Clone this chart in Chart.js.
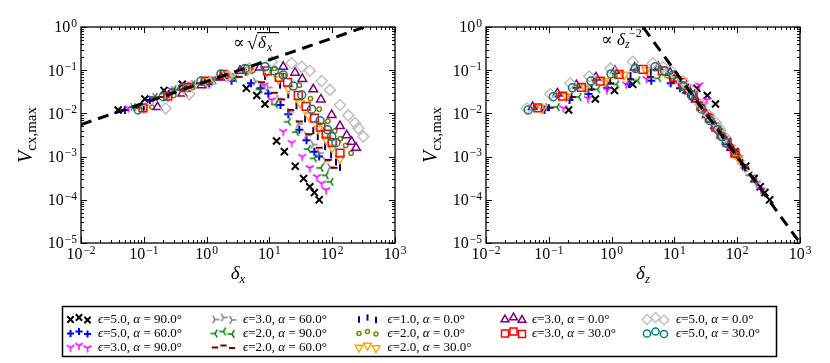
<!DOCTYPE html>
<html>
<head>
<meta charset="utf-8">
<title>Vcx,max vs delta</title>
<script src="https://cdn.jsdelivr.net/npm/chart.js@4.4.1/dist/chart.umd.min.js"></script>
<style>
  html, body { margin: 0; padding: 0; background: #fff; }
  #page { position: relative; width: 830px; height: 363px; overflow: hidden; }
  #page canvas { position: absolute; top: 0; }
  .lt { position: absolute; font-family: 'Liberation Serif', 'DejaVu Serif', serif; font-size: 13px; line-height: 16px; white-space: nowrap; color: #000; }
</style>
</head>
<body>
<div id="page">
  <canvas id="legendCanvas" width="830" height="363" style="left:0"></canvas>
  <canvas id="leftChart" width="415" height="300" style="left:0"></canvas>
  <canvas id="rightChart" width="425" height="300" style="left:405px"></canvas>
</div>
<script>
// ---- data: delta_x, delta_z and V_cx,max for each run ----
// eps=5.0, alpha=90
const dxE5A90 = [0.039, 0.104, 0.21, 0.41, 4.3, 6.3, 8.5, 13, 17.3, 25.8, 35, 44, 52, 62];
const dzE5A90 = [0.207, 0.551, 1.11, 2.17, 22.8, 33.4, 45.1, 68.9, 91.7, 137, 186, 233, 276, 329];
const vE5A90 = [0.012, 0.0215, 0.034, 0.047, 0.038, 0.026, 0.0165, 0.0023, 0.0013, 0.0006, 0.00031, 0.0002, 0.000147, 0.0001];
// eps=5.0, alpha=60
const dxE5A60 = [0.05, 0.125, 0.25, 0.5, 1.1, 2.5, 5.1, 7.2, 9.6, 15, 20, 30, 39, 52, 62];
const dzE5A60 = [0.0855, 0.214, 0.428, 0.855, 1.88, 4.28, 8.72, 12.3, 16.4, 25.7, 34.2, 51.3, 66.7, 88.9, 106];
const vE5A60 = [0.012, 0.0205, 0.028, 0.039, 0.048, 0.057, 0.05, 0.038, 0.029, 0.0156, 0.0095, 0.0042, 0.0024, 0.0013, 0.001];
// eps=3.0, alpha=90
const dxE3A90 = [0.057, 0.14, 0.28, 0.57, 1.2, 8.3, 10.9, 16.6, 22.6, 33.4, 44, 57, 68, 80];
const dzE3A90 = [0.171, 0.42, 0.84, 1.71, 3.6, 24.9, 32.7, 49.8, 67.8, 100, 132, 171, 204, 240];
const vE3A90 = [0.0132, 0.022, 0.035, 0.047, 0.063, 0.045, 0.0204, 0.0038, 0.0021, 0.001, 0.00055, 0.00034, 0.00024, 0.00017];
// eps=3.0, alpha=60
const dxE3A60 = [0.067, 0.15, 0.3, 0.62, 1.3, 2.7, 6, 9.5, 14, 21, 29, 39, 50, 63, 78, 92];
const dzE3A60 = [0.0965, 0.216, 0.432, 0.893, 1.87, 3.89, 8.64, 13.7, 20.2, 30.2, 41.8, 56.2, 72, 90.7, 112, 132];
const vE3A60 = [0.014, 0.024, 0.035, 0.048, 0.06, 0.068, 0.055, 0.04, 0.022, 0.011, 0.0057, 0.0031, 0.0019, 0.0012, 0.00079, 0.00057];
// eps=2.0, alpha=90
const dxE2A90 = [0.068, 0.15, 0.3, 0.6, 1.3, 2.8, 7.1, 12.5, 20, 27, 41.6, 52, 66, 80, 95];
const dzE2A90 = [0.136, 0.3, 0.6, 1.2, 2.6, 5.6, 14.2, 25, 40, 54, 83.2, 104, 132, 160, 190];
const vE2A90 = [0.014, 0.024, 0.036, 0.047, 0.058, 0.065, 0.036, 0.016, 0.0064, 0.0037, 0.0015, 0.00091, 0.00055, 0.00037, 0.00026];
// eps=2.0, alpha=60
const dxE2A60 = [0.083, 0.19, 0.38, 0.77, 1.6, 3.3, 7.5, 12, 15.7, 21.8, 30, 42.8, 62, 87, 107];
const dzE2A60 = [0.105, 0.239, 0.479, 0.97, 2.02, 4.16, 9.45, 15.1, 19.8, 27.5, 37.8, 53.9, 78.1, 110, 135];
const vE2A60 = [0.0135, 0.024, 0.036, 0.05, 0.062, 0.07, 0.0525, 0.03, 0.021, 0.012, 0.0065, 0.0033, 0.0016, 0.00084, 0.00055];
// eps=1.0, alpha=0
const dxE1A0 = [0.1, 0.23, 0.48, 0.95, 2, 4.2, 8.5, 14.8, 20, 27, 37, 50, 59, 77, 96, 115, 133];
const dzE1A0 = [0.1, 0.23, 0.48, 0.95, 2, 4.2, 8.5, 14.8, 20, 27, 37, 50, 59, 77, 96, 115, 133];
const vE1A0 = [0.0135, 0.025, 0.04, 0.056, 0.075, 0.09, 0.072, 0.045, 0.027, 0.015, 0.0075, 0.004, 0.0029, 0.0017, 0.0011, 0.00075, 0.00056];
// eps=2.0, alpha=0
const dxE2A0 = [0.135, 0.3, 0.6, 1.2, 2.5, 5.5, 12, 17, 30, 45, 62, 85, 110, 135, 164, 200];
const dzE2A0 = [0.061, 0.135, 0.27, 0.54, 1.13, 2.48, 5.4, 7.65, 13.5, 20.3, 27.9, 38.3, 49.5, 60.8, 73.8, 90];
const vE2A0 = [0.014, 0.026, 0.04, 0.057, 0.075, 0.1, 0.11, 0.075, 0.045, 0.022, 0.0125, 0.0066, 0.0039, 0.0026, 0.0018, 0.0012];
// eps=2.0, alpha=30
const dxE2A30 = [0.1, 0.24, 0.48, 1.0, 2.0, 4.5, 9, 14, 20, 30.7, 42, 60, 80, 100, 133];
const dzE2A30 = [0.079, 0.19, 0.379, 0.79, 1.58, 3.56, 7.11, 11.1, 15.8, 24.3, 33.2, 47.4, 63.2, 79, 105];
const vE2A30 = [0.0135, 0.025, 0.04, 0.056, 0.078, 0.1, 0.09, 0.062, 0.038, 0.0175, 0.009, 0.0044, 0.0025, 0.0016, 0.0009];
// eps=3.0, alpha=0
const dxE3A0 = [0.166, 0.41, 0.83, 1.69, 3.4, 7, 16.6, 25.6, 33.4, 50, 66, 98, 133, 170, 204, 240];
const dzE3A0 = [0.0553, 0.137, 0.276, 0.563, 1.13, 2.33, 5.53, 8.53, 11.1, 16.7, 22, 32.7, 44.3, 56.7, 68, 80];
const vE3A0 = [0.014, 0.029, 0.045, 0.068, 0.097, 0.115, 0.12, 0.0875, 0.0626, 0.036, 0.021, 0.0092, 0.0051, 0.0031, 0.0022, 0.0016];
// eps=3.0, alpha=30
const dxE3A30 = [0.097, 0.24, 0.48, 0.95, 1.9, 4.6, 9.3, 14.4, 19.5, 28.8, 38.3, 52, 66, 80, 100, 133];
const dzE3A30 = [0.0669, 0.166, 0.331, 0.656, 1.31, 3.17, 6.42, 9.94, 13.5, 19.9, 26.4, 35.9, 45.5, 55.2, 69, 91.8];
const vE3A30 = [0.0134, 0.025, 0.04, 0.056, 0.08, 0.105, 0.097, 0.0685, 0.0525, 0.026, 0.0145, 0.0078, 0.0048, 0.0033, 0.0021, 0.0012];
// eps=5.0, alpha=0
const dxE5A0 = [0.223, 0.53, 1.1, 2.2, 4.8, 10.9, 22.6, 32.7, 44, 68, 92, 133, 180, 231, 261, 313];
const dzE5A0 = [0.0446, 0.106, 0.22, 0.44, 0.96, 2.18, 4.52, 6.54, 8.8, 13.6, 18.4, 26.6, 36, 46.2, 52.2, 62.6];
const vE5A0 = [0.0131, 0.028, 0.05, 0.072, 0.11, 0.157, 0.145, 0.12, 0.097, 0.056, 0.035, 0.0156, 0.009, 0.006, 0.0045, 0.0029];
// eps=5.0, alpha=30
const dxE5A30 = [0.081, 0.204, 0.41, 0.81, 1.69, 4.1, 8.5, 12, 16.6, 24, 32.7, 47, 64, 84, 98, 115];
const dzE5A30 = [0.047, 0.118, 0.238, 0.47, 0.98, 2.38, 4.93, 6.96, 9.63, 13.9, 19, 27.3, 37.1, 48.7, 56.8, 66.7];
const vE5A30 = [0.012, 0.0244, 0.039, 0.056, 0.082, 0.11, 0.12, 0.096, 0.0775, 0.043, 0.0267, 0.0125, 0.0068, 0.0042, 0.0029, 0.0021];

// guide lines: V ~ sqrt(delta_x) and V ~ delta_z^-2
const sqrtGuideX = [0.01, 1000];
const sqrtGuideY = [0.0055, 1.74];
const invGuideX = [1, 1000];
const invGuideY = [10, 0.00001];

const xTickExps = [-2, -1, 0, 1, 2, 3];
const yTickExps = [-5, -4, -3, -2, -1, 0];

const labels = [
  'ϵ=5.0, α = 90.0°', 'ϵ=5.0, α = 60.0°', 'ϵ=3.0, α = 90.0°',
  'ϵ=3.0, α = 60.0°', 'ϵ=2.0, α = 90.0°', 'ϵ=2.0, α = 60.0°',
  'ϵ=1.0, α = 0.0°', 'ϵ=2.0, α = 0.0°', 'ϵ=2.0, α = 30.0°',
  'ϵ=3.0, α = 0.0°', 'ϵ=3.0, α = 30.0°',
  'ϵ=5.0, α = 0.0°', 'ϵ=5.0, α = 30.0°'
];
const deltaX = [dxE5A90, dxE5A60, dxE3A90, dxE3A60, dxE2A90, dxE2A60, dxE1A0, dxE2A0, dxE2A30, dxE3A0, dxE3A30, dxE5A0, dxE5A30];
const deltaZ = [dzE5A90, dzE5A60, dzE3A90, dzE3A60, dzE2A90, dzE2A60, dzE1A0, dzE2A0, dzE2A30, dzE3A0, dzE3A30, dzE5A0, dzE5A30];
const vMax = [vE5A90, vE5A60, vE3A90, vE3A60, vE2A90, vE2A60, vE1A0, vE2A0, vE2A30, vE3A0, vE3A30, vE5A0, vE5A30];

const SERIF = "'Liberation Serif', 'DejaVu Serif', serif";

// matplotlib-like "tri" markers as small sprites
function tri(color, angles) {
  const c = document.createElement('canvas');
  c.width = 12; c.height = 12;
  const g = c.getContext('2d');
  g.strokeStyle = color;
  g.lineWidth = 1.5;
  g.beginPath();
  angles.forEach(a => {
    const r = a * Math.PI / 180;
    g.moveTo(6, 6);
    g.lineTo(6 + 4.5 * Math.cos(r), 6 - 4.5 * Math.sin(r));
  });
  g.stroke();
  return c;
}

const looks = [
  { color: '#000000', pointStyle: 'crossRot', radius: 5, width: 2 },
  { color: '#0000ff', pointStyle: 'cross', radius: 4, width: 2 },
  { color: '#ff00ff', pointStyle: tri('#ff00ff', [270, 30, 150]) },
  { color: '#808080', pointStyle: tri('#808080', [0, 120, 240]) },
  { color: '#008000', pointStyle: tri('#008000', [180, 60, 300]) },
  { color: '#800000', pointStyle: 'line', radius: 3.5, width: 2 },
  { color: '#000080', pointStyle: 'line', rotation: 90, radius: 3.5, width: 2 },
  { color: '#808000', pointStyle: 'circle', radius: 2.2, width: 1.5 },
  { color: '#ffa500', pointStyle: 'triangle', rotation: 180, radius: 5, width: 1.5 },
  { color: '#800080', pointStyle: 'triangle', radius: 5, width: 1.5 },
  { color: '#ff0000', pointStyle: 'rect', radius: 5.5, width: 1.5 },
  { color: '#c0c0c0', pointStyle: 'rectRot', radius: 5.5, width: 1.5 },
  { color: '#008080', pointStyle: 'circle', radius: 4, width: 1.5 }
];

function scatterSets(xsList) {
  return labels.map((label, i) => {
    const lk = looks[i];
    return {
      label,
      data: xsList[i].map((x, j) => ({ x, y: vMax[i][j] })),
      pointStyle: lk.pointStyle,
      pointRadius: lk.radius || 4,
      pointRotation: lk.rotation || 0,
      pointBorderColor: lk.color,
      pointBackgroundColor: 'rgba(0,0,0,0)',
      pointBorderWidth: lk.width || 1.5,
      showLine: false,
      order: labels.length - i + 1
    };
  });
}

// "10" with a raised exponent
function powLabel(ctx, e, x, y, align) {
  const sup = e < 0 ? '\u2212' + (-e) : String(e);
  ctx.font = `16px ${SERIF}`;
  const wb = ctx.measureText('10').width;
  ctx.font = `11.5px ${SERIF}`;
  const ws = ctx.measureText(sup).width;
  const total = wb + ws + 1;
  const x0 = align === 'center' ? x - total / 2 : x - total;
  ctx.font = `16px ${SERIF}`;
  ctx.fillText('10', x0, y);
  ctx.font = `11.5px ${SERIF}`;
  ctx.fillText(sup, x0 + wb + 1, y - 5.5);
}

const decoPlugin = {
  id: 'deco',
  afterDatasetsDraw(chart, args, o) {
    const { ctx, chartArea: a } = chart;
    const xs = chart.scales.x, ys = chart.scales.y;
    ctx.save();
    ctx.fillStyle = '#000';
    ctx.strokeStyle = '#000';

    // inward major/minor ticks on all four sides
    ctx.lineWidth = 1;
    ctx.beginPath();
    xTickExps.forEach((e, i) => {
      for (let m = 1; m <= 9; m++) {
        if (m > 1 && i === xTickExps.length - 1) break;
        const px = Math.round(xs.getPixelForValue(m * Math.pow(10, e))) + 0.5;
        const len = m === 1 ? 6 : 3;
        ctx.moveTo(px, a.bottom); ctx.lineTo(px, a.bottom - len);
        ctx.moveTo(px, a.top); ctx.lineTo(px, a.top + len);
      }
    });
    yTickExps.forEach((e, i) => {
      for (let m = 1; m <= 9; m++) {
        if (m > 1 && i === yTickExps.length - 1) break;
        const py = Math.round(ys.getPixelForValue(m * Math.pow(10, e))) + 0.5;
        const len = m === 1 ? 6 : 3;
        ctx.moveTo(a.left, py); ctx.lineTo(a.left + len, py);
        ctx.moveTo(a.right, py); ctx.lineTo(a.right - len, py);
      }
    });
    ctx.stroke();

    ctx.lineWidth = 1.3;
    ctx.strokeRect(a.left, a.top, a.right - a.left, a.bottom - a.top);

    // tick labels
    ctx.textAlign = 'left';
    ctx.textBaseline = 'alphabetic';
    xTickExps.forEach(e => powLabel(ctx, e, xs.getPixelForValue(Math.pow(10, e)), a.bottom + 16, 'center'));
    yTickExps.forEach(e => powLabel(ctx, e, a.left - 4, ys.getPixelForValue(Math.pow(10, e)) + 5.3, 'right'));

    // x title: delta with subscript
    ctx.font = `italic 19px ${SERIF}`;
    const wd = ctx.measureText('δ').width;
    ctx.font = `italic 13px ${SERIF}`;
    const wsub = ctx.measureText(o.sub).width;
    const cx = (a.left + a.right) / 2 - (wd + wsub) / 2;
    ctx.font = `italic 19px ${SERIF}`;
    ctx.fillText('δ', cx, a.bottom + 36);
    ctx.font = `italic 13px ${SERIF}`;
    ctx.fillText(o.sub, cx + wd, a.bottom + 40);

    // y title: V_cx,max rotated
    ctx.save();
    ctx.translate(a.left - 49, (a.top + a.bottom) / 2);
    ctx.rotate(-Math.PI / 2);
    ctx.font = `italic 20px ${SERIF}`;
    const wV = ctx.measureText('V').width;
    ctx.font = `15px ${SERIF}`;
    const wS = ctx.measureText('cx,max').width;
    const y0 = -(wV + wS) / 2;
    ctx.font = `italic 20px ${SERIF}`;
    ctx.fillText('V', y0, 0);
    ctx.font = `15px ${SERIF}`;
    ctx.fillText('cx,max', y0 + wV, 4);
    ctx.restore();

    // guide annotation
    if (o.guide === 'sqrt') {
      ctx.font = `17px ${SERIF}`;
      ctx.fillText('∝', a.left + 152, 48);
      ctx.font = `19px ${SERIF}`;
      ctx.fillText('√', a.left + 166, 49);
      ctx.fillRect(a.left + 176, 32, 22, 1.2);
      ctx.font = `italic 17px ${SERIF}`;
      ctx.fillText('δ', a.left + 177, 48);
      ctx.font = `italic 12px ${SERIF}`;
      ctx.fillText('x', a.left + 186, 51);
    } else {
      ctx.font = `17px ${SERIF}`;
      ctx.fillText('∝', a.left + 115, 45);
      ctx.font = `italic 17px ${SERIF}`;
      ctx.fillText('δ', a.left + 131, 45);
      ctx.font = `italic 12px ${SERIF}`;
      ctx.fillText('z', a.left + 139, 48);
      ctx.font = `12px ${SERIF}`;
      ctx.fillText('\u22122', a.left + 143, 37);
    }
    ctx.restore();
  }
};

function makeChart(id, xsList, gx, gy, padRight, deco) {
  return new Chart(document.getElementById(id), {
    type: 'scatter',
    data: {
      datasets: [
        ...scatterSets(xsList),
        {
          label: 'guide',
          data: gx.map((x, j) => ({ x, y: gy[j] })),
          showLine: true,
          borderColor: '#000',
          borderWidth: 3,
          borderDash: [11, 7],
          pointRadius: 0,
          order: 0
        }
      ]
    },
    options: {
      responsive: false,
      animation: false,
      events: [],
      layout: { padding: { left: 81, right: padRight, top: 27, bottom: 57 } },
      scales: {
        x: { type: 'logarithmic', min: 0.01, max: 1000, display: false },
        y: { type: 'logarithmic', min: 0.00001, max: 1, display: false }
      },
      plugins: {
        legend: { display: false },
        tooltip: { enabled: false },
        deco
      }
    },
    plugins: [decoPlugin]
  });
}

makeChart('leftChart', deltaX, sqrtGuideX, sqrtGuideY, 20, { sub: 'x', guide: 'sqrt' });
makeChart('rightChart', deltaZ, invGuideX, invGuideY, 30, { sub: 'z', guide: 'inv' });

// ---- legend box below both panels (5 columns: 3,3,3,2,2 entries) ----
const LEG_SLOTS = [[0, 0], [0, 1], [0, 2], [1, 0], [1, 1], [1, 2], [2, 0], [2, 1], [2, 2], [3, 0], [3, 1], [4, 0], [4, 1]];
const LEG_COL_X = [70.5, 215, 359, 505, 647];
const LEG_TEXT_X = [98, 243, 387.5, 532, 676];
const LEG_ROW_Y = [319, 333, 347];
const page = document.getElementById('page');
const lg = document.getElementById('legendCanvas').getContext('2d');
lg.strokeStyle = '#000';
lg.lineWidth = 1.5;
lg.strokeRect(62.5, 306.5, 714, 50);

labels.forEach((label, i) => {
  const [col, row] = LEG_SLOTS[i];
  const lk = looks[i];
  const yc = LEG_ROW_Y[row];
  [0, 8.5, 17].forEach((dx, k) => {
    lg.save();
    lg.strokeStyle = lk.color;
    lg.fillStyle = 'rgba(0,0,0,0)';
    lg.lineWidth = lk.width || 1.5;
    Chart.helpers.drawPoint(lg, {
      pointStyle: lk.pointStyle,
      radius: (lk.radius || 4) * 0.9,
      rotation: lk.rotation || 0,
      borderWidth: lk.width || 1.5
    }, LEG_COL_X[col] + dx, yc + [0.5, -1.5, 1][k]);
    lg.restore();
  });
  const span = document.createElement('span');
  span.className = 'lt';
  span.style.left = LEG_TEXT_X[col] + 'px';
  span.style.top = (yc - 8) + 'px';
  span.innerHTML = label.replace('ϵ', '<i>ϵ</i>').replace('α', '<i>α</i>');
  page.appendChild(span);
});
</script>
</body>
</html>
